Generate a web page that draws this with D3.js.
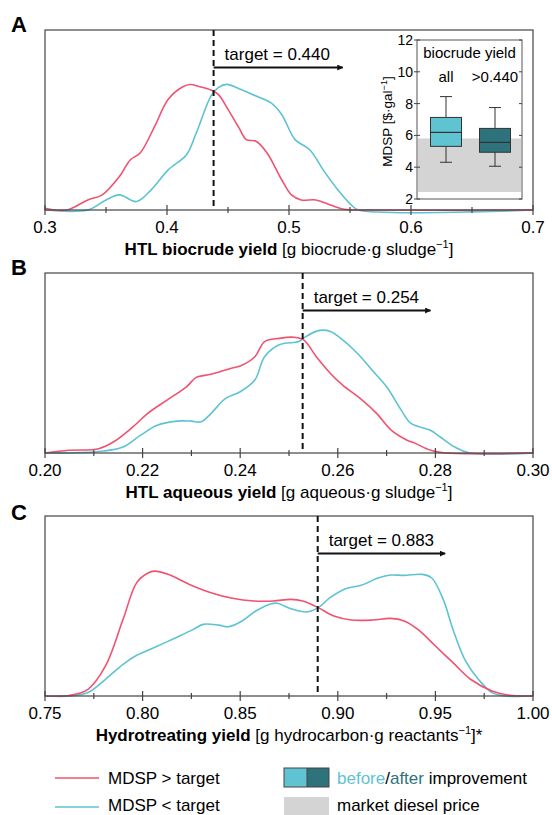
<!DOCTYPE html>
<html>
<head>
<meta charset="utf-8">
<script src="https://cdn.jsdelivr.net/npm/d3@7"></script>
<style>
  body { margin: 0; background: #fff; }
  svg { font-family: "Liberation Sans", Arial, sans-serif; }
</style>
</head>
<body>
<div id="chart"></div>
<script>
// ---- data (x value, relative density) ----
var biocrudeAbove = [[0.300,0.010],[0.318,0.000],[0.335,0.056],[0.347,0.084],[0.361,0.186],[0.370,0.279],[0.378,0.317],[0.390,0.466],[0.401,0.615],[0.413,0.685],[0.419,0.697],[0.427,0.685],[0.436,0.667],[0.442,0.642],[0.450,0.559],[0.459,0.456],[0.465,0.391],[0.473,0.382],[0.482,0.317],[0.494,0.168],[0.502,0.084],[0.510,0.056],[0.522,0.056],[0.534,0.028],[0.545,0.004],[0.566,0.000],[0.700,0.000]];
var biocrudeBelow = [[0.300,0.000],[0.335,0.000],[0.350,0.056],[0.361,0.084],[0.375,0.047],[0.387,0.112],[0.401,0.223],[0.416,0.307],[0.424,0.428],[0.436,0.633],[0.442,0.680],[0.449,0.698],[0.459,0.674],[0.470,0.642],[0.485,0.596],[0.494,0.531],[0.505,0.391],[0.517,0.335],[0.528,0.223],[0.540,0.112],[0.551,0.028],[0.557,0.000],[0.700,0.000]];

var aqueousAbove = [[0.200,0.000],[0.205,0.015],[0.211,0.024],[0.214,0.061],[0.218,0.145],[0.221,0.219],[0.225,0.294],[0.229,0.368],[0.231,0.420],[0.234,0.437],[0.238,0.470],[0.240,0.483],[0.243,0.535],[0.245,0.619],[0.248,0.637],[0.251,0.643],[0.253,0.628],[0.2556,0.535],[0.2585,0.442],[0.261,0.377],[0.265,0.294],[0.268,0.219],[0.271,0.126],[0.274,0.074],[0.276,0.052],[0.279,0.015],[0.282,0.000],[0.300,0.000]];
var aqueousBelow = [[0.200,0.000],[0.205,0.000],[0.212,0.011],[0.216,0.033],[0.2196,0.099],[0.223,0.154],[0.227,0.177],[0.230,0.177],[0.232,0.173],[0.234,0.219],[0.237,0.303],[0.240,0.340],[0.243,0.405],[0.245,0.535],[0.248,0.601],[0.252,0.619],[0.253,0.639],[0.256,0.680],[0.2585,0.675],[0.261,0.628],[0.264,0.554],[0.267,0.461],[0.270,0.368],[0.273,0.238],[0.275,0.164],[0.279,0.126],[0.281,0.089],[0.284,0.033],[0.287,0.000],[0.300,0.000]];

var hydroAbove = [[0.750,0.000],[0.763,0.004],[0.772,0.037],[0.781,0.167],[0.790,0.426],[0.797,0.630],[0.803,0.685],[0.806,0.694],[0.813,0.676],[0.824,0.620],[0.835,0.574],[0.846,0.543],[0.857,0.528],[0.867,0.528],[0.876,0.537],[0.882,0.528],[0.890,0.491],[0.898,0.444],[0.907,0.422],[0.918,0.422],[0.927,0.431],[0.934,0.417],[0.941,0.370],[0.950,0.278],[0.959,0.185],[0.968,0.093],[0.979,0.028],[0.988,0.004],[1.000,0.000]];
var hydroBelow = [[0.750,0.000],[0.763,0.000],[0.772,0.019],[0.781,0.093],[0.790,0.176],[0.797,0.226],[0.806,0.269],[0.817,0.324],[0.826,0.370],[0.831,0.398],[0.839,0.394],[0.844,0.385],[0.851,0.417],[0.858,0.472],[0.866,0.513],[0.869,0.515],[0.876,0.485],[0.884,0.467],[0.890,0.491],[0.896,0.546],[0.904,0.596],[0.912,0.615],[0.921,0.657],[0.927,0.672],[0.934,0.670],[0.943,0.676],[0.948,0.657],[0.954,0.537],[0.959,0.370],[0.965,0.204],[0.972,0.093],[0.979,0.019],[0.986,0.000],[1.000,0.000]];

// target: label value, where the dashed line sits, where the arrow ends
var targetLabels = ["0.440", "0.254", "0.883"];
var targetLines = [0.4382, 0.2528, 0.8897];
var arrowEnds = [0.544, 0.279, 0.955];

var xDomains = [[0.3, 0.7], [0.20, 0.30], [0.75, 1.00]];
var majorSteps = [0.1, 0.02, 0.05];
var tickFormats = [".1f", ".2f", ".2f"];

// inset box plot (MDSP, $/gal)
var boxCats = ["all", ">0.440"];
var boxStats = [
  {cat: "all", lo: 4.31, q1: 5.31, med: 6.19, q3: 7.13, hi: 8.44},
  {cat: ">0.440", lo: 4.06, q1: 4.94, med: 5.56, q3: 6.44, hi: 7.75}
];
var dieselRange = [2.44, 5.81];
var insetTicks = [2, 4, 6, 8, 10, 12];

var red = "#f05270", teal = "#5cc3d3";
var boxLight = "#5fc3d1", boxDark = "#2e737b", grey = "#d4d4d4";

var width = 552, height = 815;
var plotL = 45, plotR = 533, plotH = 180;
var tops = [30, 273, 516];
var labelYs = [32, 275, 520];

var svg = d3.select("#chart").append("svg")
    .attr("width", width)
    .attr("height", height);

var series = [[biocrudeAbove, biocrudeBelow], [aqueousAbove, aqueousBelow], [hydroAbove, hydroBelow]];
var titles = [
  ["HTL biocrude yield", " [g biocrude\u00b7g sludge", "\u22121", "]"],
  ["HTL aqueous yield", " [g aqueous\u00b7g sludge", "\u22121", "]"],
  ["Hydrotreating yield", " [g hydrocarbon\u00b7g reactants", "\u22121", "]*"]
];
var letters = ["A", "B", "C"];

svg.append("defs").append("marker")
    .attr("id", "arrow")
    .attr("viewBox", "0 0 10 10")
    .attr("refX", 9).attr("refY", 5)
    .attr("markerWidth", 6).attr("markerHeight", 6)
    .attr("markerUnits", "userSpaceOnUse")
    .attr("orient", "auto")
    .append("path")
    .attr("d", "M0,0 L10,5 L0,10 Z")
    .attr("fill", "#111");

series.forEach(function (s, i) {
    var top = tops[i], bottom = top + plotH;
    var x = d3.scaleLinear().domain(xDomains[i]).range([plotL, plotR]);
    var y = d3.scaleLinear().domain([0, 1]).range([bottom, top]);
    var g = svg.append("g");

    // panel letter
    svg.append("text")
        .attr("x", 11).attr("y", labelYs[i])
        .attr("font-size", 22).attr("font-weight", "bold")
        .text(letters[i]);

    var line = d3.line()
        .x(function (d) { return x(d[0]); })
        .y(function (d) { return Math.min(bottom, y(d[1])); })
        .curve(d3.curveCatmullRom.alpha(0.5));

    g.append("path").datum(s[1])
        .attr("d", line).attr("fill", "none")
        .attr("stroke", teal).attr("stroke-width", 1.6);
    g.append("path").datum(s[0])
        .attr("d", line).attr("fill", "none")
        .attr("stroke", red).attr("stroke-width", 1.6);

    // frame
    g.append("rect")
        .attr("x", plotL).attr("y", top)
        .attr("width", plotR - plotL).attr("height", plotH)
        .attr("fill", "none").attr("stroke", "#444").attr("stroke-width", 1.2);

    // ticks
    var step = majorSteps[i];
    var d0 = xDomains[i][0], d1 = xDomains[i][1];
    var n = Math.round((d1 - d0) / step);
    var majors = d3.range(n + 1).map(function (k) { return d0 + k * step; });
    var minors = d3.range(n).map(function (k) { return d0 + (k + 0.5) * step; });
    g.selectAll(".maj").data(majors).enter().append("line")
        .attr("x1", function (d) { return x(d); }).attr("x2", function (d) { return x(d); })
        .attr("y1", bottom - 5).attr("y2", bottom + 5)
        .attr("stroke", "#444").attr("stroke-width", 1.2);
    g.selectAll(".min").data(minors).enter().append("line")
        .attr("x1", function (d) { return x(d); }).attr("x2", function (d) { return x(d); })
        .attr("y1", bottom - 3).attr("y2", bottom + 3)
        .attr("stroke", "#444").attr("stroke-width", 1.2);
    g.selectAll(".lab").data(majors).enter().append("text")
        .attr("x", function (d) { return x(d); })
        .attr("y", bottom + 23)
        .attr("text-anchor", "middle")
        .attr("font-size", 17)
        .text(function (d) { return d3.format(tickFormats[i])(d); });

    // target
    var tx = x(targetLines[i]);
    g.append("line")
        .attr("x1", tx).attr("x2", tx).attr("y1", top).attr("y2", bottom)
        .attr("stroke", "#111").attr("stroke-width", 2)
        .attr("stroke-dasharray", "6,4");
    g.append("line")
        .attr("x1", tx).attr("x2", x(arrowEnds[i]))
        .attr("y1", top + 37.5).attr("y2", top + 37.5)
        .attr("stroke", "#111").attr("stroke-width", 2)
        .attr("marker-end", "url(#arrow)");
    g.append("text")
        .attr("x", tx + 11).attr("y", top + 30)
        .attr("font-size", 17)
        .text("target = " + targetLabels[i]);

    // axis title
    var t = svg.append("text")
        .attr("x", (plotL + plotR) / 2).attr("y", bottom + 45)
        .attr("text-anchor", "middle")
        .attr("font-size", 17);
    t.append("tspan").attr("font-weight", "bold").text(titles[i][0]);
    t.append("tspan").text(titles[i][1]);
    t.append("tspan").attr("font-size", 11).attr("dy", -7).text(titles[i][2]);
    t.append("tspan").attr("dy", 7).text(titles[i][3]);
});

// ---- inset box plot ----
var inL = 417, inR = 522, inTop = 40, inBot = 199;
var iy = d3.scaleLinear().domain([2, 12]).range([inBot, inTop]);
var ix = d3.scalePoint().domain(boxCats).range([inL + 29, inR - 27]);
var boxW = 31;
var ig = svg.append("g");

ig.append("rect")
    .attr("x", inL).attr("y", inTop)
    .attr("width", inR - inL).attr("height", inBot - inTop)
    .attr("fill", "#fff");
ig.append("rect")
    .attr("x", inL + 1).attr("y", iy(dieselRange[1]))
    .attr("width", inR - inL - 2).attr("height", iy(dieselRange[0]) - iy(dieselRange[1]))
    .attr("fill", grey);

boxStats.forEach(function (b, k) {
    var cx = ix(b.cat);
    var col = k === 0 ? boxLight : boxDark;
    ig.append("line")
        .attr("x1", cx).attr("x2", cx).attr("y1", iy(b.hi)).attr("y2", iy(b.lo))
        .attr("stroke", "#333").attr("stroke-width", 1);
    ig.selectAll(".cap" + k).data([b.hi, b.lo]).enter().append("line")
        .attr("x1", cx - 6).attr("x2", cx + 6)
        .attr("y1", function (d) { return iy(d); }).attr("y2", function (d) { return iy(d); })
        .attr("stroke", "#333").attr("stroke-width", 1);
    ig.append("rect")
        .attr("x", cx - boxW / 2).attr("y", iy(b.q3))
        .attr("width", boxW).attr("height", iy(b.q1) - iy(b.q3))
        .attr("fill", col).attr("stroke", "#333").attr("stroke-width", 1);
    ig.append("line")
        .attr("x1", cx - boxW / 2).attr("x2", cx + boxW / 2)
        .attr("y1", iy(b.med)).attr("y2", iy(b.med))
        .attr("stroke", "#333").attr("stroke-width", 1.2);
    ig.append("text")
        .attr("x", cx).attr("y", 82)
        .attr("text-anchor", "middle").attr("font-size", 15)
        .text(b.cat);
});

ig.append("rect")
    .attr("x", inL).attr("y", inTop)
    .attr("width", inR - inL).attr("height", inBot - inTop)
    .attr("fill", "none").attr("stroke", "#555").attr("stroke-width", 1);

ig.append("text")
    .attr("x", (inL + inR) / 2).attr("y", 58)
    .attr("text-anchor", "middle").attr("font-size", 15)
    .text("biocrude yield");

ig.selectAll(".it").data(insetTicks).enter().append("line")
    .attr("x1", inL - 3).attr("x2", inL + 3)
    .attr("y1", function (d) { return iy(d); }).attr("y2", function (d) { return iy(d); })
    .attr("stroke", "#444");
ig.selectAll(".itr").data(insetTicks).enter().append("line")
    .attr("x1", inR - 3).attr("x2", inR)
    .attr("y1", function (d) { return iy(d); }).attr("y2", function (d) { return iy(d); })
    .attr("stroke", "#444");
ig.selectAll(".itl").data(insetTicks).enter().append("text")
    .attr("x", inL - 4)
    .attr("y", function (d) { return iy(d) + 5; })
    .attr("text-anchor", "end").attr("font-size", 14)
    .text(function (d) { return d; });

var yl = ig.append("text")
    .attr("transform", "translate(392," + ((inTop + inBot) / 2 + 2) + ") rotate(-90)")
    .attr("text-anchor", "middle").attr("font-size", 13.5);
yl.append("tspan").text("MDSP [$\u00b7gal");
yl.append("tspan").attr("font-size", 9).attr("dy", -5).text("\u22121");
yl.append("tspan").attr("dy", 5).text("]");

// ---- legend ----
var lg = svg.append("g");
lg.append("line").attr("x1", 55).attr("x2", 99).attr("y1", 778).attr("y2", 778)
    .attr("stroke", red).attr("stroke-width", 1.6);
lg.append("line").attr("x1", 55).attr("x2", 99).attr("y1", 807).attr("y2", 807)
    .attr("stroke", teal).attr("stroke-width", 1.6);
lg.append("text").attr("x", 108).attr("y", 784).attr("font-size", 17).text("MDSP > target");
lg.append("text").attr("x", 108).attr("y", 811).attr("font-size", 17).text("MDSP < target");

lg.append("rect").attr("x", 284).attr("y", 768).attr("width", 23).attr("height", 19)
    .attr("fill", boxLight);
lg.append("rect").attr("x", 307).attr("y", 768).attr("width", 22).attr("height", 19)
    .attr("fill", boxDark);
lg.append("rect").attr("x", 284).attr("y", 768).attr("width", 45).attr("height", 19)
    .attr("fill", "none").attr("stroke", "#444").attr("stroke-width", 1);
lg.append("line").attr("x1", 307).attr("x2", 307).attr("y1", 768).attr("y2", 787)
    .attr("stroke", "#444").attr("stroke-width", 1);
lg.append("rect").attr("x", 284).attr("y", 797).attr("width", 45).attr("height", 20)
    .attr("fill", grey);

var lt = lg.append("text").attr("x", 337).attr("y", 784).attr("font-size", 17);
lt.append("tspan").attr("fill", boxLight).text("before");
lt.append("tspan").text("/");
lt.append("tspan").attr("fill", boxDark).text("after");
lt.append("tspan").text(" improvement");
lg.append("text").attr("x", 337).attr("y", 811).attr("font-size", 17).text("market diesel price");
</script>
</body>
</html>
